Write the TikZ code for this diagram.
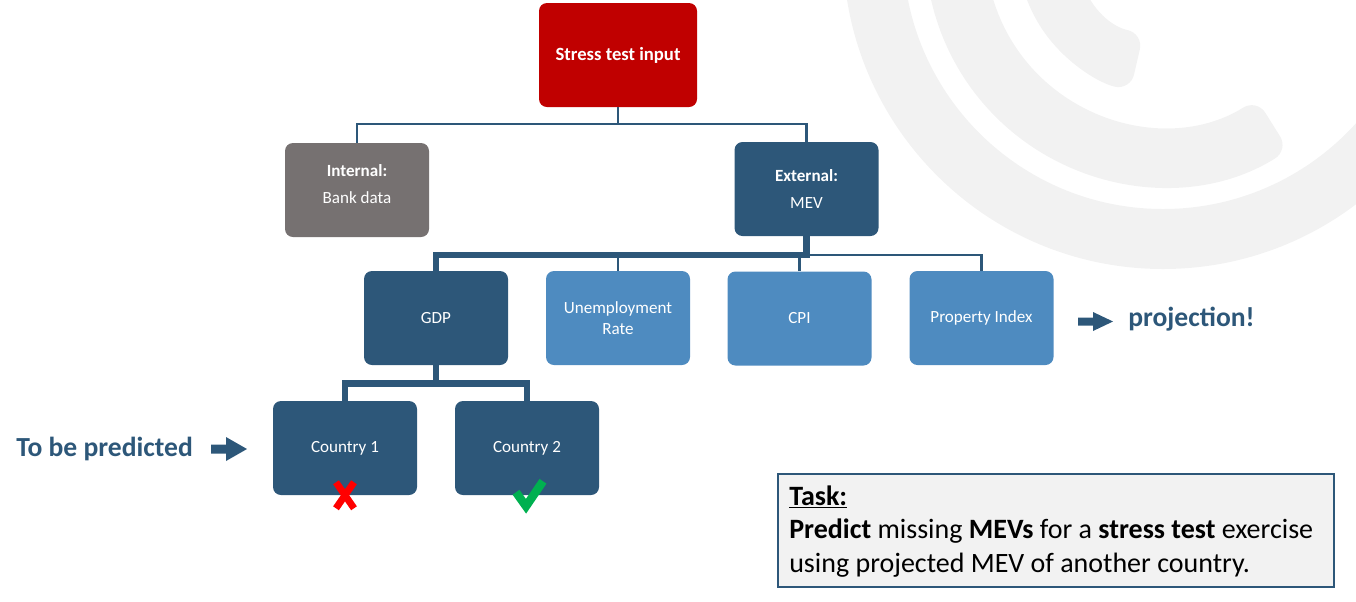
\documentclass[tikz,border=0pt]{standalone}
\usepackage{fontspec}
\setmainfont{Carlito}
\usetikzlibrary{calc}
\definecolor{dblue}{RGB}{45,87,121}
\definecolor{lblue}{RGB}{78,139,192}
\definecolor{bgray}{RGB}{118,113,113}
\definecolor{sred}{RGB}{192,0,0}
\definecolor{wmgray}{RGB}{242,242,242}
\definecolor{taskfill}{RGB}{242,242,242}
\definecolor{xred}{RGB}{255,0,0}
\definecolor{ckgreen}{RGB}{0,176,80}
\begin{document}
\begin{tikzpicture}[x=0.75pt,y=-0.75pt,
  box/.style={rectangle, rounded corners=6pt, minimum width=108pt, minimum height=70.5pt,
    text=white, align=center, font=\fontsize{12.8}{15.4}\selectfont, inner sep=2pt},
  darkbox/.style={box, fill=dblue},
  lightbox/.style={box, fill=lblue},
  graybox/.style={box, fill=bgray},
  boxlabel/.style={text=white, align=center, font=\fontsize{12.8}{15.4}\selectfont, inner sep=0pt},
  thinconn/.style={draw=dblue, line width=1.9pt},
  thickconn/.style={draw=dblue, line width=5.2pt},
  bigtext/.style={font=\fontsize{20.7}{24}\selectfont\bfseries, text=dblue, inner sep=0pt, anchor=west},
  wm/.style={fill=wmgray}
]
\useasboundingbox (0,0) rectangle (1356,601);

% watermark
\begin{scope}
  \clip (0,0) rectangle (1356,601);
  \coordinate (C) at (1163,-51);
  \fill[wm, even odd rule] (C) circle[radius=320] (C) circle[radius=260];
  \fill[wm, rounded corners=12pt] ($(C)+(58:177)$) arc[start angle=58, end angle=230, radius=177]
     -- ($(C)+(230:237)$) arc[start angle=230, end angle=58, radius=237] -- cycle;
  \fill[wm, rounded corners=12pt] ($(C)+(103:87)$) arc[start angle=103, end angle=230, radius=87]
     -- ($(C)+(230:145)$) arc[start angle=230, end angle=103, radius=145] -- cycle;
\end{scope}

% boxes
\node[box, fill=sred, minimum width=118.5pt, minimum height=78pt, font=\fontsize{14}{17}\selectfont\bfseries] (top) at (618,55) {Stress test input};
\node[graybox, label={[boxlabel, yshift=4.2pt]center:{\textbf{Internal:}\\[5pt]Bank data}}] (internal) at (357,190) {};
\node[darkbox] (external) at (806.5,189) {\textbf{External:}\\[5pt]MEV};
\node[darkbox] (gdp) at (436,318) {GDP};
\node[lightbox] (unemp) at (618,318) {Unemployment\\Rate};
\node[lightbox] (cpi) at (799.5,318.5) {CPI};
\node[lightbox] (prop) at (981.5,318) {Property Index};
\node[darkbox] (c1) at (345,448) {Country 1};
\node[darkbox] (c2) at (527,448) {Country 2};

% connectors
\coordinate (j1) at (618,124);
\draw[thinconn] (top.south) -- (j1) -| (internal.north);
\draw[thinconn] (j1) -| (external.north);
\coordinate (j2) at (806.5,255);
\draw[thinconn] (j2) -| (prop.north);
\draw[thinconn] (unemp.north) -- (unemp.north |- j2);
\draw[thinconn] (cpi.north) -- (cpi.north |- j2);
\draw[thickconn] (external.south) -- (j2) -| (gdp.north);
\coordinate (j3) at (436,383.5);
\draw[thickconn] (gdp.south) -- (j3);
\draw[thickconn] (c1.north) |- (j3) -| (c2.north);

% side texts and block arrows
\node[bigtext] (tbp) at (16,449) {To be predicted};
\coordinate (a1) at (211,449);
\fill[dblue] (a1) ++(0,-4.5) -- ++(15,0) -- ++(0,-7.5) -- ++(21,12) -- ++(-21,12) -- ++(0,-7.5) -- ++(-15,0) -- cycle;
\node[bigtext] (proj) at (1128,319) {projection!};
\coordinate (a2) at (1078,321.5);
\fill[dblue] (a2) ++(0,-4) -- ++(15,0) -- ++(0,-5.5) -- ++(20,9.5) -- ++(-20,9.5) -- ++(0,-5.5) -- ++(-15,0) -- cycle;

% cross and check
\draw[xred, line width=5.2pt] ($(c1.south)+(-9,-13)$) -- ($(c1.south)+(9,13)$);
\draw[xred, line width=5.2pt] ($(c1.south)+(9,-13)$) -- ($(c1.south)+(-9,13)$);
\draw[ckgreen, line width=6.3pt] ($(c2.south)+(-11,-3)$) -- ($(c2.south)+(-1,11)$) -- ($(c2.south)+(16,-14)$);

% task box
\node[draw=dblue, line width=1.5pt, fill=taskfill, anchor=north west, minimum width=417pt, minimum height=84.75pt] (task) at (777,473) {};
\node[anchor=west, align=left, inner sep=0pt, font=\fontsize{21}{25}\selectfont] (tasktext) at ($(task.west)+(12,1)$)
  {\underline{\textbf{Task:}}\\\textbf{Predict} missing \textbf{MEVs} for a \textbf{stress test} exercise\\using projected MEV of another country.};
\end{tikzpicture}
\end{document}
